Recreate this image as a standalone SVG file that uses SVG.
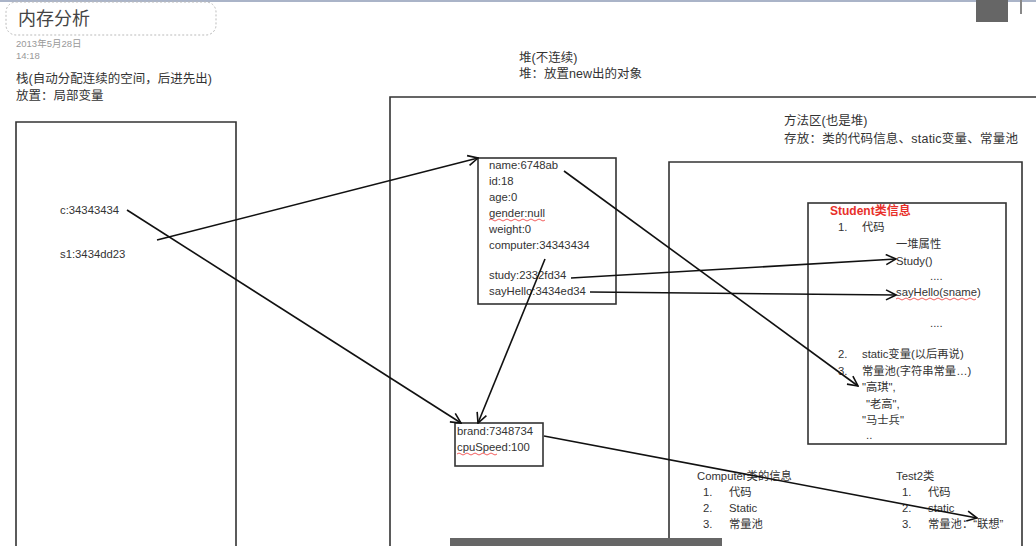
<svg xmlns="http://www.w3.org/2000/svg" width="1036" height="546" viewBox="0 0 1036 546">
<defs>
<marker id="arr" viewBox="0 0 12 12" refX="11" refY="6" markerWidth="12" markerHeight="12" markerUnits="userSpaceOnUse" orient="auto">
<path d="M1,1 L11,6 L1,11" fill="none" stroke="#111" stroke-width="1.6"/>
</marker>
<style>
text{font-family:"Liberation Sans","Noto Sans CJK SC",sans-serif;fill:#333;font-size:11.3px}
.h{font-size:12.5px}
.box{fill:none;stroke:#333;stroke-width:1.6}
.conn{fill:none;stroke:#111;stroke-width:1.6;marker-end:url(#arr)}
.sq{fill:none;stroke:#e33;stroke-width:0.8}
</style>
</defs>
<rect width="1036" height="546" fill="#fff"/>
<rect x="0" y="0" width="1036" height="2" fill="#aab4c8"/>

<g id="title">
<rect x="6" y="2" width="210" height="33" rx="10" fill="none" stroke="#bbb" stroke-dasharray="2,2"/>
<text x="18" y="25" style="font-size:18px;fill:#444">内存分析</text>
<text x="16" y="47" style="font-size:9.5px;fill:#999">2013年5月28日</text>
<text x="16" y="59" style="font-size:9.5px;fill:#999">14:18</text>
</g>

<g id="stack">
<text class="h" x="16" y="83">栈(自动分配连续的空间，后进先出)</text>
<text class="h" x="16" y="100">放置：局部变量</text>
<path class="box" d="M16,560 V122 H236 V560"/>
<text x="60" y="214">c:34343434</text>
<text x="60" y="258">s1:3434dd23</text>
</g>

<g id="heap">
<text class="h" x="519" y="62">堆(不连续)</text>
<text class="h" x="519" y="78">堆：放置new出的对象</text>
<path class="box" d="M390,560 V97 H1040"/>
</g>

<g id="method-area">
<text class="h" x="784" y="125">方法区(也是堆)</text>
<text class="h" x="784" y="143" textLength="234">存放：类的代码信息、static变量、常量池</text>
<path class="box" d="M669,560 V162 H1022 V560"/>
</g>

<g id="student-object">
<rect class="box" x="478" y="158" width="138" height="146"/>
<text x="489" y="169">name:6748ab</text>
<text x="489" y="185">id:18</text>
<text x="489" y="201">age:0</text>
<text x="489" y="217">gender:null</text>
<path class="sq" d="M489,220 q2,-2 4,0 t4,0 t4,0 t4,0 t4,0 t4,0 t4,0 t4,0 t4,0 t4,0 t4,0 t4,0 t4,0 t4,0"/>
<text x="489" y="233">weight:0</text>
<text x="489" y="249">computer:34343434</text>
<text x="489" y="279">study:2332fd34</text>
<text x="489" y="295">sayHello:3434ed34</text>
</g>

<g id="computer-object">
<rect class="box" x="455" y="423" width="88" height="43"/>
<text x="457" y="435">brand:7348734</text>
<text x="457" y="451">cpuSpeed:100</text>
<path class="sq" d="M457,454 q2,-2 4,0 t4,0 t4,0 t4,0 t4,0 t4,0 t4,0 t4,0 t4,0 t4,0"/>
</g>

<g id="student-class">
<rect class="box" x="808" y="203" width="198" height="241"/>
<text x="830" y="215" style="fill:#e8302a;font-weight:bold;font-size:12px">Student类信息</text>
<text x="838" y="231">1.</text><text x="862" y="231">代码</text>
<text x="896" y="248">一堆属性</text>
<text x="896" y="265">Study()</text>
<text x="930" y="280">....</text>
<text x="896" y="296">sayHello(sname)</text>
<path class="sq" d="M896,299 q2,-2 4,0 t4,0 t4,0 t4,0 t4,0 t4,0 t4,0 t4,0 t4,0 t4,0 t4,0 t4,0 t4,0 t4,0 t4,0 t4,0 t4,0 t4,0 t4,0 t4,0"/>
<text x="930" y="327">....</text>
<text x="838" y="358">2.</text><text x="862" y="358">static变量(以后再说)</text>
<text x="838" y="375">3.</text><text x="862" y="375">常量池(字符串常量…)</text>
<text x="862" y="391">"高琪",</text>
<text x="866" y="408">"老高",</text>
<text x="862" y="424">"马士兵"</text>
<text x="866" y="439">..</text>
</g>

<g id="computer-class">
<text x="697" y="480">Computer类的信息</text>
<text x="703" y="496">1.</text><text x="729" y="496">代码</text>
<text x="703" y="512">2.</text><text x="729" y="512">Static</text>
<text x="703" y="528">3.</text><text x="729" y="528">常量池</text>
</g>

<g id="test2-class">
<text x="896" y="480">Test2类</text>
<text x="902" y="496">1.</text><text x="928" y="496">代码</text>
<text x="902" y="512">2.</text><text x="928" y="512">static</text>
<text x="902" y="528">3.</text><text x="928" y="528">常量池：“联想”</text>
</g>

<g id="connectors">
<path class="conn" d="M157,240 L478,158"/>
<path class="conn" d="M127,210 L461,423"/>
<path class="conn" d="M545,259 L478,423"/>
<path class="conn" d="M564,171 L858,386"/>
<path class="conn" d="M571,278 L896,259"/>
<path class="conn" d="M590,292 L896,295"/>
<path class="conn" d="M544,436 L977,518"/>
</g>

<g id="overlay">
<rect x="450" y="538" width="272" height="8" fill="#666"/>
<rect x="976" y="0" width="32" height="22" fill="#666"/>
<rect x="1020" y="0" width="2" height="14" fill="#888"/>
</g>
</svg>
